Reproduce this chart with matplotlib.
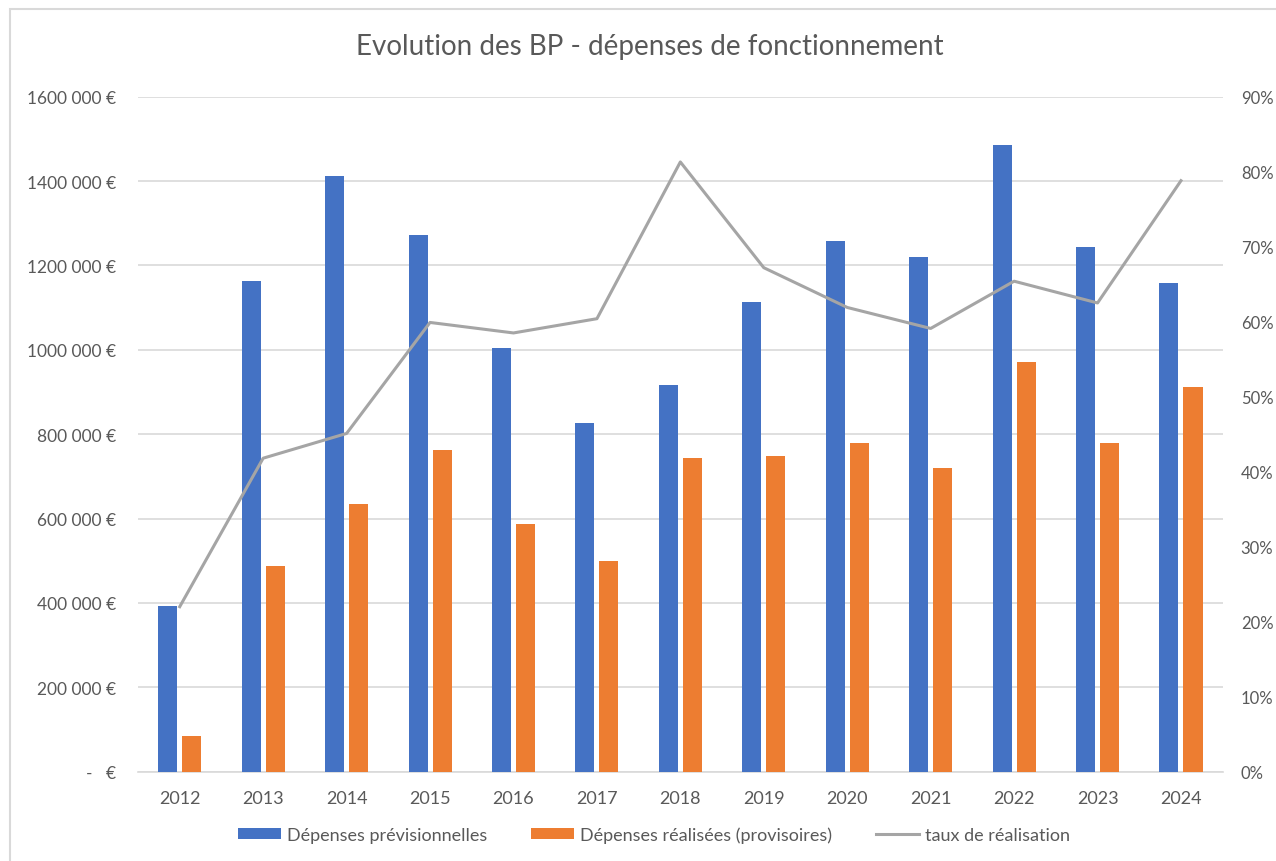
import matplotlib
matplotlib.use("Agg")
import matplotlib.pyplot as plt
import numpy as np
from matplotlib.ticker import FuncFormatter, MultipleLocator
from matplotlib.patches import Rectangle

years = ["2012", "2013", "2014", "2015", "2016", "2017", "2018",
         "2019", "2020", "2021", "2022", "2023", "2024"]
previsionnelles = [392000, 1163000, 1411000, 1273000, 1004000, 827000, 917000,
                   1113000, 1258000, 1221000, 1486000, 1243000, 1158000]
realisees = [85000, 487000, 635000, 763000, 586000, 499000, 743000,
             748000, 778000, 720000, 971000, 778000, 911000]
taux = [22.0, 41.8, 45.1, 59.9, 58.5, 60.4, 81.3,
        67.2, 61.9, 59.1, 65.4, 62.5, 78.8]

plt.rcParams['font.family'] = ['Lato', 'DejaVu Sans']
TXT = '#595959'

W, H = 1276, 862
fig = plt.figure(figsize=(W / 100, H / 100), dpi=100)
fig.patches.append(Rectangle((10 / W, -10 / H), (W + 20) / W, (H) / H,
                             transform=fig.transFigure, fill=False,
                             edgecolor='#D9D9D9', linewidth=1.5))

left, right, top, bottom = 138, 1222.7, 97.7, 772.7
ax = fig.add_axes([left / W, (H - bottom) / H, (right - left) / W, (bottom - top) / H])

x = np.arange(len(years))
bw = 0.228
off = 0.144
b1 = ax.bar(x - off, previsionnelles, bw, color='#4472C4', label='Dépenses prévisionnelles', zorder=3)
b2 = ax.bar(x + off, realisees, bw, color='#ED7D31', label='Dépenses réalisées (provisoires)', zorder=3)

ax.set_xlim(-0.5, len(years) - 0.5)
ax.set_ylim(0, 1600000)
ax.yaxis.set_major_locator(MultipleLocator(200000))


def eur(v, pos):
    if v == 0:
        return '-   €'
    s = f"{int(round(v)):,}".replace(',', ' ')
    if v >= 1000000:
        s = s.replace(' ', '', 1)
    return s + ' €'


ax.yaxis.set_major_formatter(FuncFormatter(eur))
ax.set_xticks(x)
ax.set_xticklabels(years)
ax.grid(axis='y', color='#D9D9D9', linewidth=1.2, zorder=0)
ax.set_axisbelow(True)
for s in ['top', 'right', 'left']:
    ax.spines[s].set_visible(False)
ax.spines['bottom'].set_color('#D9D9D9')
ax.spines['bottom'].set_linewidth(1.2)
ax.tick_params(axis='y', length=0, labelsize=12.5, colors=TXT, pad=15.8)
ax.tick_params(axis='x', length=0, labelsize=13, colors=TXT, pad=13)

ax2 = ax.twinx()
ln, = ax2.plot(x, taux, color='#A5A5A5', linewidth=2.2, label='taux de réalisation', zorder=4)
ax2.set_ylim(0, 90)
ax2.yaxis.set_major_locator(MultipleLocator(10))
ax2.yaxis.set_major_formatter(FuncFormatter(lambda v, p: f"{int(round(v))}%"))
for s in ax2.spines.values():
    s.set_visible(False)
ax2.tick_params(axis='y', length=0, labelsize=12, colors=TXT, pad=13)

fig.text(650 / W, 1 - 47 / H, 'Evolution des BP - dépenses de fonctionnement',
         ha='center', va='center', fontsize=20, color=TXT)

leg = fig.legend(handles=[b1, b2, ln], loc='center', bbox_to_anchor=(654 / W, 1 - 836 / H),
                 ncol=3, frameon=False, fontsize=13, handlelength=2.4,
                 handleheight=0.55, columnspacing=2.4, handletextpad=0.35)
for t in leg.get_texts():
    t.set_color(TXT)

fig.savefig('out.png', dpi=100)
